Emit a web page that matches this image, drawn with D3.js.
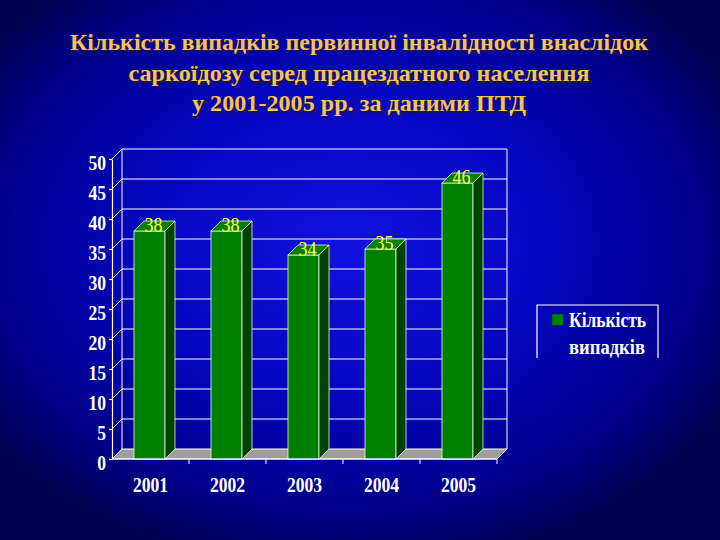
<!DOCTYPE html>
<html>
<head>
<meta charset="utf-8">
<script src="https://cdn.jsdelivr.net/npm/d3@7"></script>
<style>
  html, body { margin: 0; padding: 0; background: #000050; }
  svg { display: block; }
</style>
</head>
<body>
<div id="graph"></div>
<script>
var titleLines = ['Кількість випадків первинної інвалідності внаслідок',
                  'саркоїдозу серед працездатного населення',
                  'у 2001-2005 рр. за даними ПТД'];
var years = ['2001', '2002', '2003', '2004', '2005'];
var cases = [38, 38, 34, 35, 46];
var yTicks = [0, 5, 10, 15, 20, 25, 30, 35, 40, 45, 50];
var legendLines = ['Кількість', 'випадків'];

var width = 720, height = 540;
var dx = 10, dy = -10; // 3d depth

var svg = d3.select('#graph')
            .append('svg')
            .attr('width', width)
            .attr('height', height);

var defs = svg.append('defs');
var bg = defs.append('radialGradient')
             .attr('id', 'bg')
             .attr('cx', '0.48').attr('cy', '0.45').attr('r', '0.62');
bg.append('stop').attr('offset', '0').attr('stop-color', '#1212e0');
bg.append('stop').attr('offset', '0.45').attr('stop-color', '#0606c0');
bg.append('stop').attr('offset', '0.8').attr('stop-color', '#00008a');
bg.append('stop').attr('offset', '1').attr('stop-color', '#00004c');

svg.append('rect')
   .attr('width', width)
   .attr('height', height)
   .attr('fill', 'url(#bg)');

// title
var titleY = [49.5, 81, 111];
var titleLen = [578, 461, 334];
var title = svg.append('g')
               .attr('font-family', '"Liberation Serif", "Times New Roman", serif')
               .attr('font-weight', 'bold')
               .attr('font-size', 23)
               .attr('text-anchor', 'middle');
[['#20103a', 1.5], ['#f3c35c', 0]].forEach(function(s) {
  title.selectAll(null)
       .data(titleLines)
       .enter()
       .append('text')
       .attr('x', 359 + s[1])
       .attr('y', (d, i) => titleY[i] + s[1])
       .attr('textLength', (d, i) => titleLen[i])
       .attr('lengthAdjust', 'spacingAndGlyphs')
       .attr('fill', s[0])
       .text(d => d);
});

var x = d3.scaleBand()
          .domain(years)
          .range([112, 497])
          .padding(0);

var y = d3.scaleLinear()
          .domain([0, 50])
          .range([459, 159]);

var chart = svg.append('g');
var x0 = x.range()[0], x1 = x.range()[1];

// back wall gridlines
chart.selectAll('.grid')
     .data(yTicks.slice(1))
     .enter()
     .append('line')
     .attr('x1', x0 + dx).attr('x2', x1 + dx)
     .attr('y1', d => y(d) + dy).attr('y2', d => y(d) + dy)
     .attr('stroke', '#ffffff')
     .attr('stroke-width', 1.1);

// side wall lines
chart.selectAll('.side')
     .data(yTicks.slice(1))
     .enter()
     .append('line')
     .attr('x1', x0).attr('x2', x0 + dx)
     .attr('y1', d => y(d)).attr('y2', d => y(d) + dy)
     .attr('stroke', '#ffffff')
     .attr('stroke-width', 1);

chart.append('line')
     .attr('x1', x0 + dx).attr('x2', x0 + dx)
     .attr('y1', y(50) + dy).attr('y2', y(0) + dy)
     .attr('stroke', '#ffffff');
chart.append('line')
     .attr('x1', x1 + dx).attr('x2', x1 + dx)
     .attr('y1', y(50) + dy).attr('y2', y(0) + dy)
     .attr('stroke', '#ffffff');

// floor
chart.append('path')
     .attr('d', 'M' + x0 + ',' + y(0) + 'L' + x1 + ',' + y(0) +
                'L' + (x1 + dx) + ',' + (y(0) + dy) + 'L' + (x0 + dx) + ',' + (y(0) + dy) + 'Z')
     .attr('fill', '#a09e9c')
     .attr('stroke', '#ffffff')
     .attr('stroke-width', 1);

// bars
var bw = 31;
var bars = chart.selectAll('.bar')
                .data(years)
                .enter()
                .append('g');

bars.append('rect')
    .attr('x', d => x(d) + x.bandwidth() / 2 - bw / 2 - 1)
    .attr('y', (d, i) => y(cases[i]))
    .attr('width', bw)
    .attr('height', (d, i) => y(0) - y(cases[i]))
    .attr('fill', '#008000')
    .attr('stroke', '#e8f0e8')
    .attr('stroke-width', 0.8);

bars.append('path')
    .attr('d', function(d, i) {
      var bx = x(d) + x.bandwidth() / 2 - bw / 2 - 1, by = y(cases[i]);
      return 'M' + bx + ',' + by + 'L' + (bx + bw) + ',' + by +
             'L' + (bx + bw + dx) + ',' + (by + dy) + 'L' + (bx + dx) + ',' + (by + dy) + 'Z';
    })
    .attr('fill', '#008000')
    .attr('stroke', '#e8f0e8')
    .attr('stroke-width', 0.8);

bars.append('path')
    .attr('d', function(d, i) {
      var bx = x(d) + x.bandwidth() / 2 - bw / 2 - 1 + bw, by = y(cases[i]);
      return 'M' + bx + ',' + by + 'L' + (bx + dx) + ',' + (by + dy) +
             'L' + (bx + dx) + ',' + (y(0) + dy) + 'L' + bx + ',' + y(0) + 'Z';
    })
    .attr('fill', '#004400')
    .attr('stroke', '#e8f0e8')
    .attr('stroke-width', 0.8);

// value labels
bars.append('text')
    .attr('transform', (d, i) => 'translate(' + (x(d) + x.bandwidth() / 2 + 3) + ',' + (y(cases[i]) + 0.5) + ') scale(0.86,1)')
    .attr('text-anchor', 'middle')
    .attr('font-family', '"Liberation Serif", "Times New Roman", serif')
    .attr('font-size', 21)
    .attr('fill', '#ffff48')
    .text((d, i) => cases[i]);

// front value axis
var yAxis = svg.append('g')
               .attr('transform', 'translate(' + x0 + ',0)')
               .call(d3.axisLeft(y).tickValues(yTicks).tickSize(3).tickSizeOuter(0).tickFormat(''));
yAxis.selectAll('path, line').attr('stroke', '#ffffff').attr('stroke-width', 1.2);

svg.selectAll('.ylab')
   .data(yTicks)
   .enter()
   .append('text')
   .attr('transform', d => 'translate(106,' + (y(d) + 10.5) + ') scale(0.84,1)')
   .attr('text-anchor', 'end')
   .attr('font-family', '"Liberation Serif", "Times New Roman", serif')
   .attr('font-weight', 'bold')
   .attr('font-size', 21)
   .attr('fill', '#ffffff')
   .text(d => d);

// front category axis
svg.append('line')
   .attr('x1', x0).attr('x2', x1)
   .attr('y1', y(0)).attr('y2', y(0))
   .attr('stroke', '#ffffff')
   .attr('stroke-width', 1.2);
svg.selectAll('.xtick')
   .data(years)
   .enter()
   .append('line')
   .attr('x1', d => x(d) + x.step()).attr('x2', d => x(d) + x.step())
   .attr('y1', y(0)).attr('y2', y(0) + 5)
   .attr('stroke', '#ffffff');

svg.selectAll('.xlab')
   .data(years)
   .enter()
   .append('text')
   .attr('transform', d => 'translate(' + (x(d) + x.bandwidth() / 2) + ',492) scale(0.84,1)')
   .attr('text-anchor', 'middle')
   .attr('font-family', '"Liberation Serif", "Times New Roman", serif')
   .attr('font-weight', 'bold')
   .attr('font-size', 21)
   .attr('fill', '#ffffff')
   .text(d => d);

// legend
var legend = svg.append('g');
legend.append('path')
      .attr('d', 'M537,358V305H658V358')
      .attr('fill', 'none')
      .attr('stroke', '#ffffff')
      .attr('stroke-width', 1.2);
legend.append('rect')
      .attr('x', 552).attr('y', 314)
      .attr('width', 11.5).attr('height', 11.5)
      .attr('fill', '#008000')
      .attr('stroke', '#003300')
      .attr('stroke-width', 0.6);
legend.selectAll('text')
      .data(legendLines)
      .enter()
      .append('text')
      .attr('x', 569)
      .attr('y', (d, i) => i ? 353.5 : 327)
      .attr('textLength', (d, i) => i ? 76 : 77)
      .attr('lengthAdjust', 'spacingAndGlyphs')
      .attr('font-family', '"Liberation Serif", "Times New Roman", serif')
      .attr('font-weight', 'bold')
      .attr('font-size', 20)
      .attr('fill', '#ffffff')
      .text(d => d);
</script>
</body>
</html>
